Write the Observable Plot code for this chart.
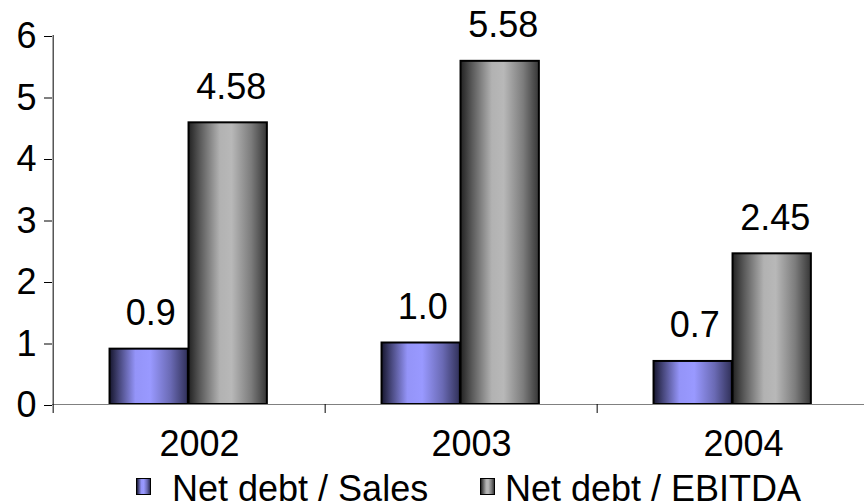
<!DOCTYPE html>
<html>
<head>
<meta charset="utf-8">
<script src="https://cdn.jsdelivr.net/npm/d3@7"></script>
<script src="https://cdn.jsdelivr.net/npm/@observablehq/plot@0.6"></script>
<style>
  html, body { margin: 0; padding: 0; background: #fff; overflow: hidden; }
  #chart { position: relative; width: 864px; height: 503px; font-family: "Liberation Sans", Arial, sans-serif; }
  #legend { position: relative; width: 864px; height: 37px; }
  .swatch { position: absolute; top: 12px; width: 13px; height: 15px; border: 1px solid #000; }
  .swatch-label { position: absolute; top: 9px; font-size: 36px; line-height: 28px; color: #000; white-space: nowrap; }
</style>
</head>
<body>
<div id="chart"></div>
<script>
// Ratios per year
const years = ["2002", "2003", "2004"];
const salesRatio = [0.9, 1.0, 0.7];
const ebitdaRatio = [4.58, 5.58, 2.45];
const seriesNames = ["Net debt / Sales", "Net debt / EBITDA"];
const yTicks = [0, 1, 2, 3, 4, 5, 6];

const rows = years.map((year, i) => ({year, sales: salesRatio[i], ebitda: ebitdaRatio[i]}));

// Cylinder-like shading across each bar
const salesStops = [[0, "#16162e"], [0.12, "#46467a"], [0.33, "#9494f8"], [0.52, "#9999ff"], [0.78, "#6a6ab4"], [1, "#303058"]];
const ebitdaStops = [[0, "#222222"], [0.14, "#575757"], [0.4, "#b2b2b2"], [0.55, "#b8b8b8"], [0.8, "#7c7c7c"], [1, "#363636"]];

const xRange = [52, 870];
const band = (xRange[1] - xRange[0]) / years.length;
const barW = 79;
const split = -0.8; // shared edge of each pair, relative to the band centre

const fmt1 = d3.format(".1f");
const fmt2 = d3.format(".2f");
const font = 36;

const svg = Plot.plot({
  width: 864,
  height: 466,
  marginTop: 35,
  marginBottom: 62,
  marginLeft: 52,
  marginRight: 0,
  style: {fontFamily: "'Liberation Sans', Arial, sans-serif", fontSize: font + "px", background: "#fff", color: "#000"},
  x: {domain: years, range: xRange, padding: 0, label: null},
  y: {domain: [0, 6], label: null},
  marks: [
    Plot.barY(rows, {
      x: "year", y: "sales", fill: "url(#grad-sales)", stroke: "#000", strokeWidth: 2,
      insetLeft: band / 2 + split - barW, insetRight: band / 2 - split
    }),
    Plot.barY(rows, {
      x: "year", y: "ebitda", fill: "url(#grad-ebitda)", stroke: "#000", strokeWidth: 2,
      insetLeft: band / 2 + split, insetRight: band / 2 - split - barW
    }),
    Plot.ruleY([0], {stroke: "#808080", strokeWidth: 1.2}),
    Plot.ruleX([years[0]], {x: d => d, dx: -band / 2, stroke: "#000"}),
    Plot.axisY({ticks: yTicks, tickSize: 8, tickPadding: 8, fontSize: font, tickFormat: d3.format("d"), dy: 1, label: null}),
    // category separators below the baseline
    Plot.axisX({tickSize: 9, tickFormat: () => "", dx: -band / 2, label: null}),
    Plot.axisX({tickSize: 0, tickPadding: 26, fontSize: font, dx: 10, label: null}),
    Plot.text(rows, {
      x: "year", y: "sales", text: d => fmt1(d.sales),
      dx: split - barW / 2 + 1.5, dy: -24, lineAnchor: "bottom", fontSize: font, fill: "#000"
    }),
    Plot.text(rows, {
      x: "year", y: "ebitda", text: d => fmt2(d.ebitda),
      dx: split + barW / 2 + 3, dy: -24, lineAnchor: "bottom", fontSize: font, fill: "#000"
    })
  ]
});

// gradient definitions referenced by the bar fills
const defs = d3.select(svg).insert("defs", ":first-child");
for (const [id, stops] of [["grad-sales", salesStops], ["grad-ebitda", ebitdaStops]]) {
  const g = defs.append("linearGradient").attr("id", id).attr("x1", "0").attr("x2", "1").attr("y1", "0").attr("y2", "0");
  for (const [o, c] of stops) g.append("stop").attr("offset", o).attr("stop-color", c);
}

const chart = document.getElementById("chart");
chart.appendChild(svg);

// legend below the plot
const legend = document.createElement("div");
legend.id = "legend";
const legendPos = [{swatch: 136, label: 172}, {swatch: 480, label: 505}];
[salesStops, ebitdaStops].forEach((stops, i) => {
  const sw = document.createElement("div");
  sw.className = "swatch";
  sw.style.left = legendPos[i].swatch + "px";
  sw.style.background = `linear-gradient(to right, ${stops.map(([o, c]) => `${c} ${o * 100}%`).join(", ")})`;
  const lb = document.createElement("div");
  lb.className = "swatch-label";
  lb.style.left = legendPos[i].label + "px";
  lb.textContent = seriesNames[i];
  legend.append(sw, lb);
});
chart.appendChild(legend);
</script>
</body>
</html>
